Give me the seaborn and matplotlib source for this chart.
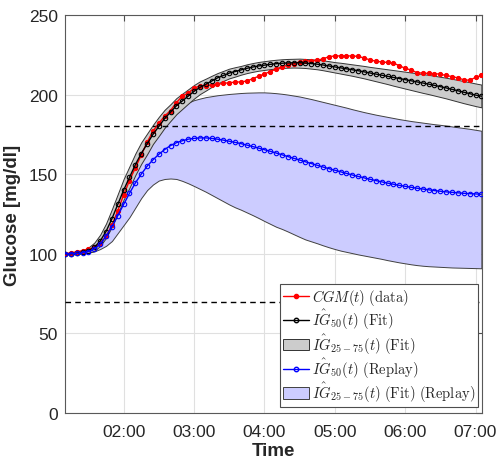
import numpy as np
import pandas as pd
import matplotlib as mpl
import matplotlib.pyplot as plt
from matplotlib.lines import Line2D
from matplotlib.patches import Patch
import seaborn as sns

# ------------------------------------------------------------------------------ #
# data (minutes since midnight, 5 min sampling)
# ------------------------------------------------------------------------------ #

t_start, t_stop, t_step = 70, 425, 5

cgm = [
    100, 100.7, 101.2, 102, 102.8, 104, 106.5, 111, 118, 127,
    137, 146, 154, 162, 170, 177, 182, 186.5, 190, 195,
    199, 201, 204, 205.5, 205.5, 206, 206.5, 207, 207.5, 207.8,
    208, 208.5, 210, 211.5, 213, 214.5, 216, 217.5, 218.5, 219.5,
    220.5, 221, 221.3, 221.5, 222.5, 223.8, 224.3, 224.3, 224.3, 224.3,
    224, 223, 221.8, 221, 220.5, 220.2, 219.8, 218.2, 216.5, 215.5,
    213.8, 213.5, 213.3, 213.2, 212.8, 212, 211.3, 210.5, 209.3, 209,
    210.8, 212,
]

fit_50 = [
    100, 100, 100.3, 101, 102, 104, 108, 114, 122, 131,
    140, 148, 156, 163, 169, 175, 180, 185, 189, 193,
    196, 199, 202, 204.5, 206.5, 208.5, 210.5, 212, 213.5, 214.5,
    215.5, 216.5, 217.3, 218, 218.5, 219, 219.4, 219.7, 219.9, 220,
    220, 219.8, 219.5, 219.1, 218.6, 218, 217.4, 216.8, 216.2, 215.6,
    215, 214.3, 213.6, 212.9, 212.2, 211.5, 210.8, 210.1, 209.4, 208.7,
    208, 207.3, 206.6, 205.8, 205, 204.2, 203.3, 202.4, 201.5, 200.6,
    199.7, 199,
]

fit_75 = [
    100.5, 100.6, 101.2, 102.3, 104, 107, 112, 119, 128, 137.5,
    147, 155, 163, 170, 175.5, 181, 186, 190.5, 194, 197.8,
    200.6, 203.3, 206, 208.3, 210, 211.8, 213.5, 214.9, 216.3, 217.2,
    218, 219, 219.8, 220.5, 221, 221.5, 221.9, 222.2, 222.4, 222.5,
    222.6, 222.4, 222.2, 221.9, 221.5, 221, 220.4, 220, 219.5, 219,
    218.5, 218, 217.4, 216.9, 216.4, 215.9, 215.4, 214.9, 214.4, 213.9,
    213.4, 212.9, 212.4, 211.8, 211.2, 210.6, 209.9, 209.2, 208.5, 207.8,
    207, 206.3,
]

fit_25 = [
    99.5, 99.6, 99.8, 100.2, 100.6, 101.8, 105, 110, 117, 125,
    134, 141.5, 149.5, 156.5, 162.5, 169, 174, 179.2, 183.5, 187.7,
    191, 194.3, 197.5, 200.3, 202.5, 204.8, 207, 208.6, 210.2, 211.3,
    212.5, 213.5, 214.3, 215, 215.5, 216, 216.4, 216.7, 216.9, 217,
    216.9, 216.7, 216.3, 215.9, 215.3, 214.6, 213.9, 213.2, 212.5, 211.8,
    211, 210.2, 209.3, 208.4, 207.5, 206.6, 205.6, 204.7, 203.8, 202.9,
    202, 201.1, 200.3, 199.4, 198.5, 197.6, 196.6, 195.6, 194.6, 193.7,
    192.8, 192,
]

replay_50 = [
    100, 100, 100.2, 100.6, 101.3, 103, 106, 111, 117, 124,
    131, 138, 144.5, 150, 155, 159, 162.5, 165.5, 168, 169.8,
    171, 172, 172.5, 172.8, 172.8, 172.5, 172, 171.4, 170.7, 170,
    169.2, 168.3, 167.4, 166.4, 165.4, 164.4, 163.3, 162.2, 161.1, 160,
    158.9, 157.8, 156.7, 155.6, 154.5, 153.5, 152.5, 151.5, 150.5, 149.5,
    148.6, 147.7, 146.8, 146, 145.2, 144.4, 143.7, 143, 142.4, 141.8,
    141.2, 140.7, 140.2, 139.7, 139.3, 138.9, 138.6, 138.3, 138, 137.8,
    137.6, 137.4,
]

replay_75 = [
    100, 100, 100.5, 101.5, 103, 106, 111, 117, 125, 133.5,
    142, 150, 157, 163.5, 169.5, 175, 180, 184, 187.5, 190.5,
    193, 195, 196.5, 197.5, 198.4, 199, 199.6, 200, 200.4, 200.7,
    201, 201.2, 201.3, 201.4, 201.4, 201.2, 200.9, 200.5, 200, 199.4,
    198.8, 198, 197.2, 196.3, 195.4, 194.5, 193.6, 192.7, 191.8, 190.8,
    189.9, 189, 188.2, 187.4, 186.7, 186, 185.3, 184.6, 184, 183.4,
    182.9, 182.4, 181.9, 181.4, 181, 180.5, 180, 179.5, 179, 178.5,
    177.9, 177.3,
]

replay_25 = [
    100, 100, 100, 100.3, 100.8, 101.5, 103, 105, 108, 113,
    118, 123, 129, 135, 140, 143.5, 146, 147, 147.3, 147,
    145.8, 144.3, 142.6, 140.8, 139, 137, 135, 133, 131, 129.2,
    127.7, 126, 124.3, 122.5, 120.6, 118.8, 117, 115.6, 114, 112.3,
    110.6, 109, 107.8, 106.6, 105.3, 104.1, 103, 102, 101.2, 100.4,
    99.6, 98.9, 98.2, 97.5, 96.8, 96, 95.3, 94.6, 94, 93.4,
    92.9, 92.5, 92.2, 92, 91.8, 91.6, 91.4, 91.3, 91.2, 91.1,
    91, 90.9,
]

hypo, hyper = 70, 180

tick_minutes = [120, 180, 240, 300, 360, 420]
tick_labels = ["02:00", "03:00", "04:00", "05:00", "06:00", "07:00"]

labels = [
    r"$CGM(t)\ \mathrm{(data)}$",
    r"$\hat{IG}_{50}(t)\ \mathrm{(Fit)}$",
    r"$\hat{IG}_{25-75}(t)\ \mathrm{(Fit)}$",
    r"$\hat{IG}_{50}(t)\ \mathrm{(Replay)}$",
    r"$\hat{IG}_{25-75}(t)\ \mathrm{(Fit)\ (Replay)}$",
]

# ------------------------------------------------------------------------------ #
# plot
# ------------------------------------------------------------------------------ #

sns.set_style("white")
plt.rcParams["font.family"] = ["Liberation Sans", "DejaVu Sans"]
plt.rcParams["mathtext.fontset"] = "cm"

t = np.arange(t_start, t_stop + 1, t_step)
df = pd.DataFrame(
    dict(
        t=t,
        cgm=cgm,
        fit_50=fit_50,
        fit_25=fit_25,
        fit_75=fit_75,
        replay_50=replay_50,
        replay_25=replay_25,
        replay_75=replay_75,
    )
)

fig = plt.figure(figsize=(5.01, 4.64), dpi=100)
ax = fig.add_axes([0.1297, 0.1078, 0.8323, 0.8577])

blue_fill = (0.8, 0.8, 1.0)
gray_fill = (0.8, 0.8, 0.8)

ax.fill_between(df.t, df.replay_25, df.replay_75, facecolor=blue_fill,
                edgecolor="0.25", lw=0.7, zorder=1)
ax.fill_between(df.t, df.fit_25, df.fit_75, facecolor=gray_fill,
                edgecolor="0.2", lw=0.7, zorder=2)

ax.axhline(hyper, color="k", ls=(0, (4, 3)), lw=1, zorder=3)
ax.axhline(hypo, color="k", ls=(0, (4, 3)), lw=1, zorder=3)

sns.lineplot(data=df, x="t", y="cgm", ax=ax, color="red", lw=1,
             marker="o", markersize=3, markeredgecolor="red",
             markerfacecolor="red", zorder=4)
sns.lineplot(data=df, x="t", y="fit_50", ax=ax, color="k", lw=1,
             marker="o", markersize=3.2, markeredgecolor="k",
             markerfacecolor="none", markeredgewidth=0.8, zorder=5)
sns.lineplot(data=df, x="t", y="replay_50", ax=ax, color="blue", lw=1,
             marker="o", markersize=3.2, markeredgecolor="blue",
             markerfacecolor="none", markeredgewidth=0.8, zorder=5)

ax.set_xlim(70, 425.5)
ax.set_ylim(0, 250)
ax.set_xticks(tick_minutes)
ax.set_xticklabels(tick_labels)
ax.set_yticks(np.arange(0, 251, 50))

ax.grid(True, color="0.88", lw=0.8)
ax.set_axisbelow(True)
for s in ax.spines.values():
    s.set_color("0.35")
    s.set_linewidth(0.8)
ax.tick_params(direction="in", length=4, width=0.8, color="0.3",
               labelsize=12.5, top=True, right=True, pad=5)
ax.tick_params(axis="x", pad=8)

ax.set_xlabel("Time", fontsize=13.5, fontweight="bold", labelpad=2)
ax.set_ylabel("Glucose [mg/dl]", fontsize=13.5, fontweight="bold", labelpad=6)

handles = [
    Line2D([], [], color="red", lw=1, marker="o", ms=3, mfc="red", mec="red"),
    Line2D([], [], color="k", lw=1, marker="o", ms=3.2, mfc="none", mec="k"),
    Patch(facecolor=gray_fill, edgecolor="0.2", lw=0.7),
    Line2D([], [], color="blue", lw=1, marker="o", ms=3.2, mfc="none", mec="blue"),
    Patch(facecolor=blue_fill, edgecolor="0.25", lw=0.7),
]
leg = ax.legend(handles, labels, loc="lower right", bbox_to_anchor=(0.99, 0.015),
                borderaxespad=0, fontsize=10.5, fancybox=False, framealpha=1,
                edgecolor="0.3", handlelength=1.8, handleheight=0.8,
                handletextpad=0.15, labelspacing=0.0, borderpad=0.2)
leg.get_frame().set_linewidth(0.8)

fig.savefig("out.png", dpi=100)
